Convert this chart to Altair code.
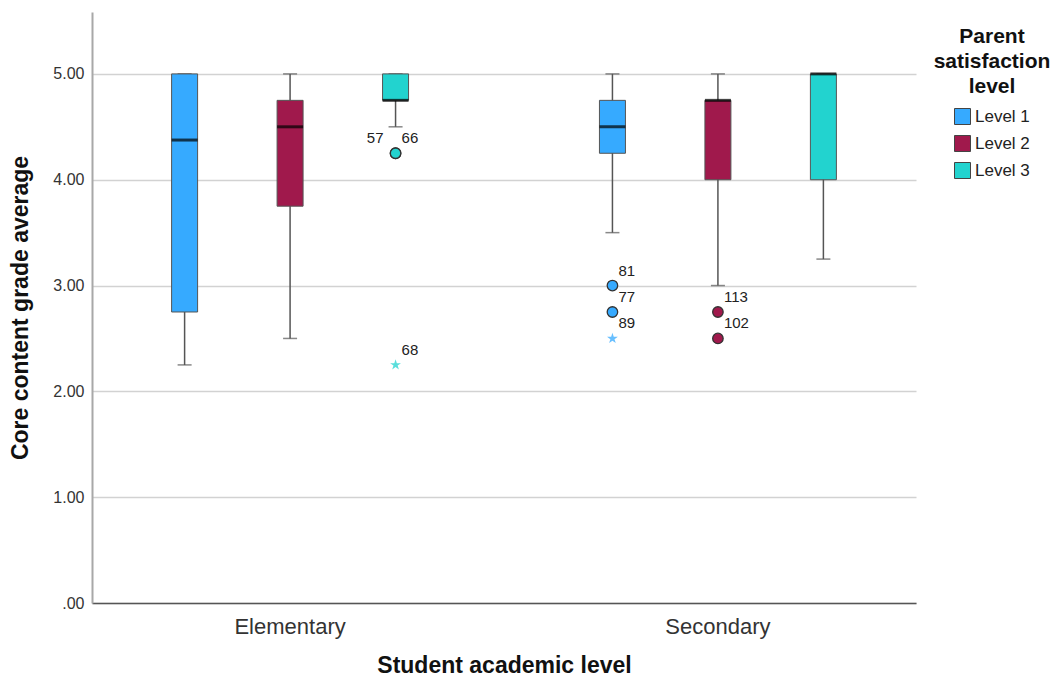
import altair as alt
import pandas as pd

FONT = "Liberation Sans"

# ---- box statistics ----
groups = ["Elementary", "Elementary", "Elementary", "Secondary", "Secondary", "Secondary"]
levels = ["Level 1", "Level 2", "Level 3", "Level 1", "Level 2", "Level 3"]
whisker_low = [2.25, 2.5, 4.5, 3.5, 3.0, 3.25]
q1 = [2.75, 3.75, 4.75, 4.25, 4.0, 4.0]
median = [4.375, 4.5, 4.75, 4.5, 4.75, 5.0]
q3 = [5.0, 4.75, 5.0, 4.75, 4.75, 5.0]
whisker_high = [5.0, 5.0, 5.0, 5.0, 5.0, 5.0]

# ---- outliers ----
out_group = ["Elementary", "Elementary", "Elementary", "Secondary", "Secondary", "Secondary", "Secondary", "Secondary"]
out_level = ["Level 3", "Level 3", "Level 3", "Level 1", "Level 1", "Level 1", "Level 2", "Level 2"]
out_value = [4.25, 4.25, 2.25, 3.0, 2.75, 2.5, 2.75, 2.5]
out_id = ["57", "66", "68", "81", "77", "89", "113", "102"]
out_kind = ["circle", "circle", "star", "circle", "circle", "star", "circle", "circle"]
out_side = ["left", "right", "right", "right", "right", "right", "right", "right"]

group_names = ["Elementary", "Secondary"]
level_names = ["Level 1", "Level 2", "Level 3"]
level_colors = ["#36aaff", "#a0194c", "#22d3cf"]
y_ticks = [0, 1, 2, 3, 4, 5]

boxes = pd.DataFrame({
    "group": groups, "level": levels, "lo": whisker_low, "q1": q1,
    "median": median, "q3": q3, "hi": whisker_high,
})
outs = pd.DataFrame({
    "group": out_group, "level": out_level, "value": out_value,
    "id": out_id, "kind": out_kind, "side": out_side,
})

STAR = ("M0,-1L0.225,-0.309L0.951,-0.309L0.363,0.118L0.588,0.809L0,0.382"
        "L-0.588,0.809L-0.363,0.118L-0.951,-0.309L-0.225,-0.309Z")

x_enc = alt.X(
    "group:N",
    scale=alt.Scale(domain=group_names, paddingInner=0.074, paddingOuter=0),
    axis=alt.Axis(
        title="Student academic level", labelAngle=0, labelFontSize=22,
        labelColor="#333333", labelPadding=13, ticks=False, domainColor="#555555",
        domainWidth=1.5, titleFontSize=23, titleFontWeight="bold", titlePadding=17,
        titleColor="#111111", grid=False,
    ),
)
xo_enc = alt.XOffset(
    "level:N", scale=alt.Scale(domain=level_names, paddingInner=0, paddingOuter=0.378)
)
y_scale = alt.Scale(domain=[0, 5.585], nice=False, zero=True)
y_axis = alt.Axis(
    title="Core content grade average", values=y_ticks,
    labelExpr="datum.value == 0 ? '.00' : format(datum.value, '.2f')",
    labelFontSize=16, labelColor="#333333", labelPadding=8, ticks=False,
    domainColor="#a8a8a8", domainWidth=2, grid=True, gridColor="#d2d2d2",
    gridWidth=1.5, titleFontSize=23, titleFontWeight="bold", titleColor="#111111",
    titlePadding=20,
)
color_scale = alt.Scale(domain=level_names, range=level_colors)

base_box = alt.Chart(boxes)

whiskers = base_box.mark_rule(color="#555555", strokeWidth=1.5).encode(
    x=x_enc, xOffset=xo_enc,
    y=alt.Y("lo:Q", scale=y_scale, axis=y_axis), y2="hi:Q",
)
cap_low = base_box.mark_tick(color="#555555", thickness=1.5, size=14).encode(
    x=x_enc, xOffset=xo_enc, y=alt.Y("lo:Q", scale=y_scale, axis=y_axis),
)
cap_high = base_box.mark_tick(color="#555555", thickness=1.5, size=14).encode(
    x=x_enc, xOffset=xo_enc, y=alt.Y("hi:Q", scale=y_scale, axis=y_axis),
)
bars = base_box.mark_bar(size=26, stroke="#555555", strokeWidth=1).encode(
    x=x_enc, xOffset=xo_enc,
    y=alt.Y("q1:Q", scale=y_scale, axis=y_axis), y2="q3:Q",
    color=alt.Color(
        "level:N", scale=color_scale,
        legend=alt.Legend(
            title=["Parent", "satisfaction", "level"], orient="none",
            legendX=842, legendY=14,
        ),
    ),
)
medians = base_box.mark_tick(color="#000000", thickness=3, size=26).encode(
    x=x_enc, xOffset=xo_enc, y=alt.Y("median:Q", scale=y_scale, axis=y_axis),
)

base_out = alt.Chart(outs)
circles = base_out.transform_filter("datum.kind == 'circle'").mark_point(
    filled=True, shape="circle", size=110, stroke="#333333", strokeWidth=1.3, opacity=1
).encode(
    x=x_enc, xOffset=xo_enc, y=alt.Y("value:Q", scale=y_scale, axis=y_axis),
    color=alt.Color("level:N", scale=color_scale, legend=None),
)
stars = base_out.transform_filter("datum.kind == 'star'").mark_point(
    filled=True, shape=STAR, size=130, opacity=0.75
).encode(
    x=x_enc, xOffset=xo_enc, y=alt.Y("value:Q", scale=y_scale, axis=y_axis),
    color=alt.Color("level:N", scale=color_scale, legend=None),
)
labels_right = base_out.transform_filter("datum.side == 'right'").mark_text(
    align="left", baseline="middle", dx=6, dy=-15, fontSize=15, font=FONT, color="#222222"
).encode(
    x=x_enc, xOffset=xo_enc, y=alt.Y("value:Q", scale=y_scale, axis=y_axis), text="id:N",
)
labels_left = base_out.transform_filter("datum.side == 'left'").mark_text(
    align="right", baseline="middle", dx=-12, dy=-15, fontSize=15, font=FONT, color="#222222"
).encode(
    x=x_enc, xOffset=xo_enc, y=alt.Y("value:Q", scale=y_scale, axis=y_axis), text="id:N",
)

chart = alt.layer(
    whiskers, cap_low, cap_high, bars, medians, circles, stars, labels_right, labels_left
).properties(
    width=824, height=591,
    autosize=alt.AutoSizeParams(type="none"),
    padding={"left": 84, "top": 4, "right": 136, "bottom": 73},
).configure(
    font=FONT,
).configure_view(
    stroke=None,
).configure_legend(
    titleFontSize=21, titleFontWeight="bold", titleColor="#111111",
    titleLineHeight=25, titleAlign="center", titleAnchor="middle",
    titlePadding=11, labelFontSize=17, labelColor="#222222",
    symbolType="square", symbolSize=256, symbolStrokeColor="#444444",
    symbolStrokeWidth=1, symbolOpacity=1, rowPadding=6, labelOffset=4,
)

chart.save("out.html", embed_options={"renderer": "svg", "actions": False})
